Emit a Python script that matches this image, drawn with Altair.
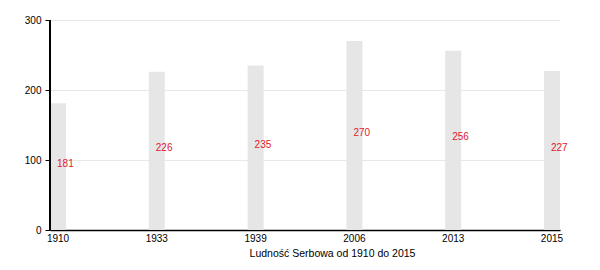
import altair as alt
import pandas as pd

years = ["1910", "1933", "1939", "2006", "2013", "2015"]
values = [181, 226, 235, 270, 256, 227]

df = pd.DataFrame({"year": years, "value": values})

x = alt.X("year:N", sort=years,
          scale=alt.Scale(paddingInner=0.838, paddingOuter=0),
          axis=alt.Axis(title="Ludność Serbowa od 1910 do 2015", labelAngle=0,
                        ticks=False, domainColor="#000000", domainWidth=1.5,
                        labelFontSize=10, labelColor="#000000", labelPadding=3,
                        labelFont="Liberation Sans", titleFont="Liberation Sans",
                        titleFontSize=10.5, titleFontWeight="normal", titleColor="#000000",
                        titleX=282, titleY=26, titleBaseline="alphabetic", grid=False))

bars = alt.Chart(df).mark_bar(color="#e6e6e6").encode(
    x=x,
    y=alt.Y("value:Q", scale=alt.Scale(domain=[0, 300]),
            axis=alt.Axis(title=None, values=[0, 100, 200, 300], grid=True,
                          gridColor="#e8e8e8", domain=False,
                          tickColor="#000000", tickSize=5, labelFontSize=10,
                          labelColor="#000000", labelPadding=4,
                          labelFont="Liberation Sans")),
)

labels = alt.Chart(df).mark_text(color="#e0182d", align="left", baseline="alphabetic",
                                 dx=-1, fontSize=10, font="Liberation Sans").encode(
    x=alt.X("year:N", sort=years, bandPosition=0.5),
    y=alt.Y("mid:Q"),
    text="value:Q",
).transform_calculate(mid="datum.value / 2")

yline = alt.Chart(df).mark_rule(color="#000000", strokeWidth=1.5).encode(
    x=alt.value(0), y=alt.value(0), y2=alt.value(210)
)

chart = alt.layer(bars, labels, yline).properties(
    width=510, height=210,
    autosize=alt.AutoSizeParams(type="none"),
    padding={"left": 50, "top": 20, "right": 40, "bottom": 40},
).configure_view(stroke=None)

chart.save("out.html", embed_options={"renderer": "svg", "actions": False})
